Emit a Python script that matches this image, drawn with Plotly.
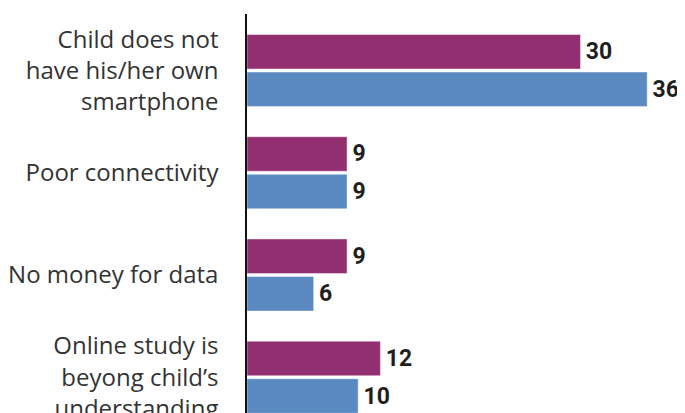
import plotly.graph_objects as go

categories = [
    "Child does not<br>have his/her own<br>smartphone",
    "Poor connectivity",
    "No money for data",
    "Online study is<br>beyong child’s<br>understanding",
]
series_a = [30, 9, 9, 12]
series_b = [36, 9, 6, 10]

PURPLE = "#922F70"
BLUE = "#5B8AC3"

fig = go.Figure()
for name, vals, col in [("Series A", series_a, PURPLE), ("Series B", series_b, BLUE)]:
    fig.add_trace(go.Bar(
        y=categories, x=vals, name=name, orientation="h",
        marker=dict(color=col, line=dict(color="rgba(255,255,255,0.45)", width=1)),
        text=vals, texttemplate="\u200a%{x}", textposition="outside",
        textfont=dict(family="Roboto", size=23, color="#1f1f1f", weight="bold"),
        cliponaxis=False,
    ))

# the page body adds an 8px offset, so the figure is 8px smaller and margins compensate
fig.update_layout(
    width=677, height=405,
    margin=dict(l=239, r=0, t=6, b=0),
    paper_bgcolor="white", plot_bgcolor="white",
    barmode="group", bargap=0.265, bargroupgap=0.08,
    showlegend=False,
    xaxis=dict(range=[0, 39.4], visible=False, automargin=False),
    yaxis=dict(
        range=[3.35, -0.553], showline=True, linecolor="#111", linewidth=1.5,
        showgrid=False, zeroline=False, ticks="", ticklabelstandoff=22,
        automargin=False,
        tickfont=dict(family="Open Sans", size=24, color="#333"),
    ),
)

fig.write_html("out.html")
